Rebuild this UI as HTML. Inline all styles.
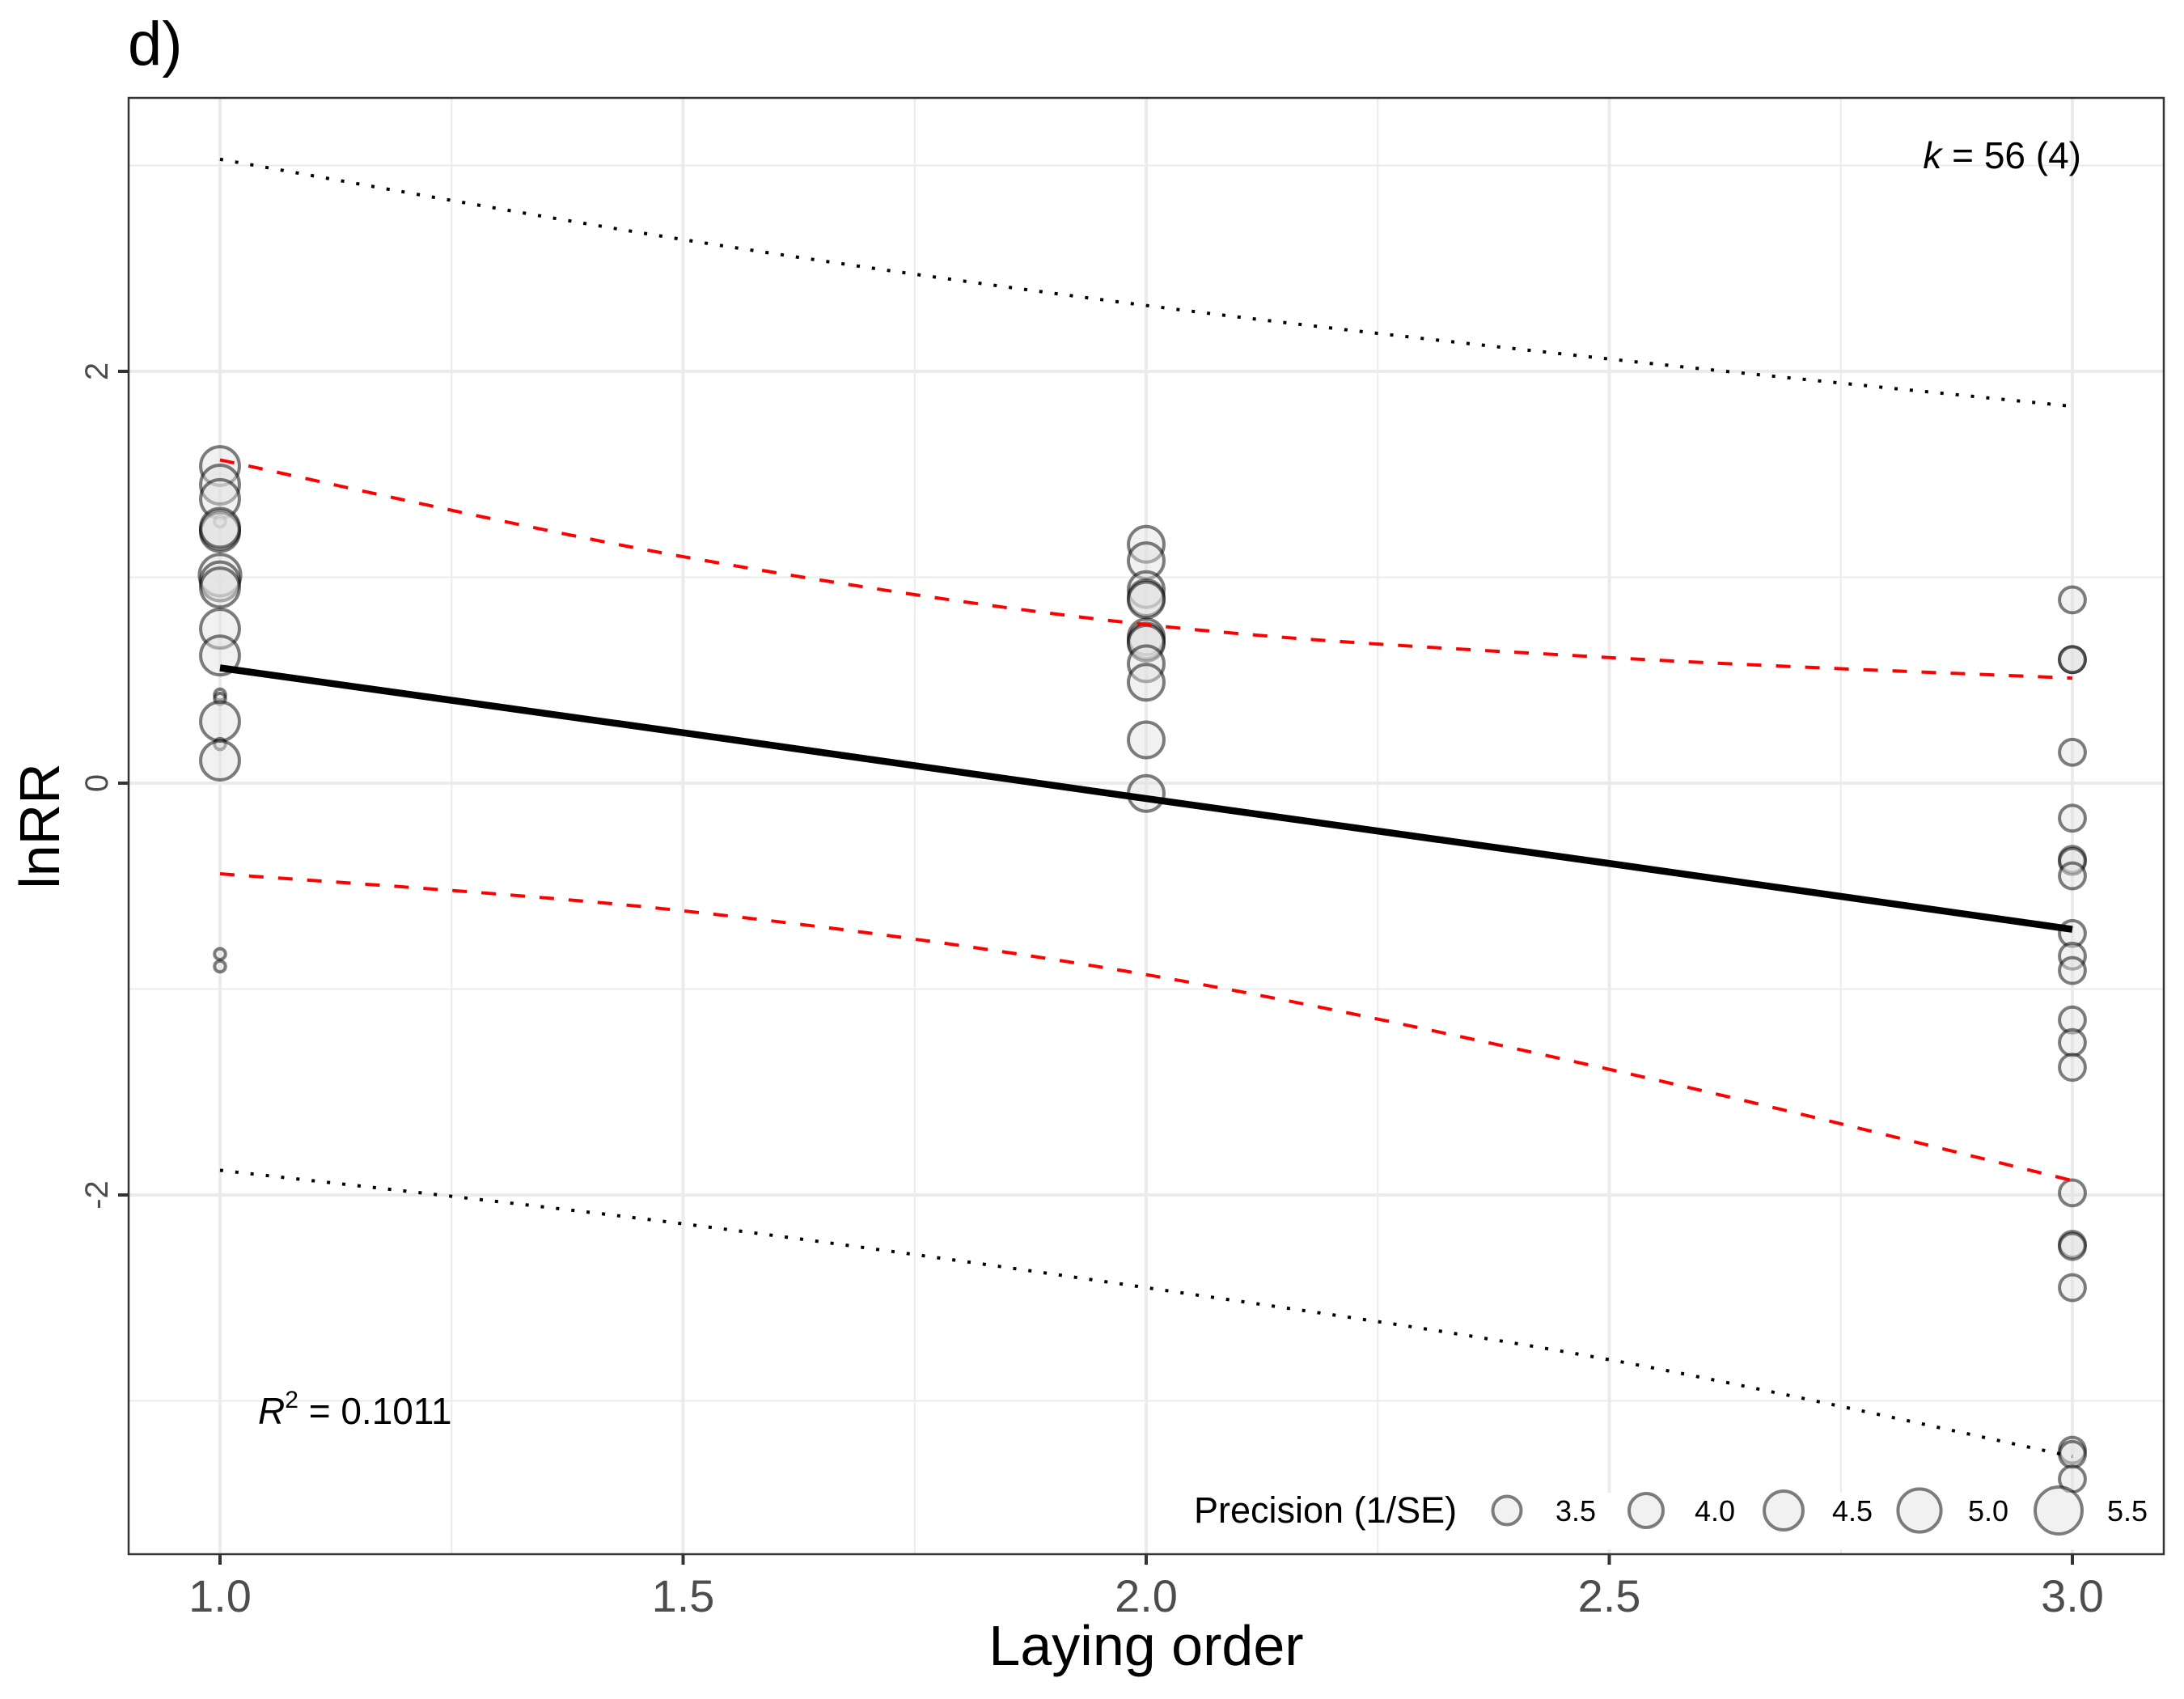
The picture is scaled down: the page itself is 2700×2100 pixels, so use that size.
<!DOCTYPE html>
<html><head><meta charset="utf-8"><style>
html,body{margin:0;padding:0;background:#fff;}
svg{display:block;font-family:"Liberation Sans",Arial,sans-serif;}
</style></head><body>
<svg id="chart" width="2700" height="2100" viewBox="0 0 2700 2100" xmlns="http://www.w3.org/2000/svg">
<rect x="0" y="0" width="2700" height="2100" fill="#fff"/>
<text x="158" y="80" font-size="76">d)</text>
<g id="grid"></g>
<g id="bands"></g>
<g id="points"></g>
<g id="legend"></g>
<rect x="159" y="121" width="2516" height="1800" fill="none" stroke="#333" stroke-width="2.5"/>
<g id="axes"></g>
<text x="1417" y="2058" font-size="70" text-anchor="middle">Laying order</text>
<text transform="translate(73,1021) rotate(-90)" font-size="70" text-anchor="middle">lnRR</text>
<text x="2573" y="208" font-size="46" text-anchor="end"><tspan font-style="italic">k</tspan> = 56 (4)</text>
<text x="319" y="1760" font-size="46"><tspan font-style="italic">R</tspan><tspan dy="-20" font-size="30">2</tspan><tspan dy="20"> = 0.1011</tspan></text>
</svg>
<script>
const NS="http://www.w3.org/2000/svg";
const xTicks=[1.0,1.5,2.0,2.5,3.0];
const xTickLabels=["1.0","1.5","2.0","2.5","3.0"];
const xMinor=[1.25,1.75,2.25,2.75];
const yTicks=[-2,0,2];
const yTickLabels=["-2","0","2"];
const yMinor=[-3,-1,1,3];
const lineX=[1,1.5,2,2.5,3];
const fitY=[0.56,0.245,-0.075,-0.39,-0.71];
const ciUpper=[1.57,1.10,0.77,0.61,0.51];
const ciLower=[-0.44,-0.62,-0.93,-1.39,-1.93];
const piUpper=[3.03,2.64,2.32,2.06,1.83];
const piLower=[-1.88,-2.14,-2.45,-2.80,-3.27];
const ptX1=[1,1,1,1,1,1,1,1,1,1,1,1,1,1,1,1,1,1,1];
const ptY1=[1.54,1.45,1.38,1.27,1.23,1.22,1.24,1.01,0.98,0.95,0.75,0.62,0.43,0.41,0.30,0.19,0.11,-0.83,-0.89];
const ptP1=[4.5,4.5,4.5,2.52,4.5,4.5,4.5,4.8,4.5,4.5,4.5,4.5,2.52,2.52,4.5,2.52,4.5,2.52,2.52];
const ptX2=[2,2,2,2,2,2,2,2,2,2,2,2];
const ptY2=[1.16,1.08,0.94,0.90,0.89,0.71,0.69,0.68,0.58,0.49,0.21,-0.05];
const ptP2=[4.16,4.16,4.16,4.16,4.16,4.16,4.16,4.16,4.16,4.16,4.16,4.16];
const ptY3=[0.89,0.60,0.60,0.15,-0.17,-0.37,-0.38,-0.45,-0.73,-0.84,-0.91,-1.15,-1.26,-1.38,-1.99,-2.24,-2.25,-2.45,-3.24,-3.26,-3.38];
const legendValues=[3.5,4.0,4.5,5.0,5.5];
const legendLabels=["3.5","4.0","4.5","5.0","5.5"];

const X=v=>272+(v-1)*1145;
const Y=v=>968-v*254.5;
const R=p=>Math.sqrt(Math.max(20,267*(p-4)+441));
function el(tag,attrs,parent){const e=document.createElementNS(NS,tag);for(const k in attrs)e.setAttribute(k,attrs[k]);parent.appendChild(e);return e;}

const grid=document.getElementById('grid');
xMinor.forEach(v=>{const l=el('line',{x1:X(v),x2:X(v),y1:121,y2:1921,stroke:'#ebebeb','stroke-width':2},grid);

});
yMinor.forEach(v=>{const l=el('line',{x1:159,x2:2675,y1:Y(v),y2:Y(v),stroke:'#ebebeb','stroke-width':2},grid);

});
xTicks.forEach(v=>{const l=el('line',{x1:X(v),x2:X(v),y1:121,y2:1921,stroke:'#ebebeb','stroke-width':4},grid);

});
yTicks.forEach(v=>{const l=el('line',{x1:159,x2:2675,y1:Y(v),y2:Y(v),stroke:'#ebebeb','stroke-width':4},grid);

});

function smooth(ys){let d='';lineX.forEach((x,i)=>{d+=(i?'L':'M')+X(x)+','+Y(ys[i]);});return d;}
function curve(ys){const pts=[];for(let i=0;i<lineX.length;i++)pts.push([X(lineX[i]),Y(ys[i])]);
let d='M'+pts[0][0]+','+pts[0][1];
for(let i=0;i<pts.length-1;i++){const p0=pts[Math.max(0,i-1)],p1=pts[i],p2=pts[i+1],p3=pts[Math.min(pts.length-1,i+2)];
d+='C'+(p1[0]+(p2[0]-p0[0])/6)+','+(p1[1]+(p2[1]-p0[1])/6)+' '+(p2[0]-(p3[0]-p1[0])/6)+','+(p2[1]-(p3[1]-p1[1])/6)+' '+p2[0]+','+p2[1];}
return d;}

const pts=document.getElementById('points');
function pt(x,y,p,name){const c=el('circle',{cx:X(x),cy:Y(y),r:R(p),fill:'rgba(225,225,225,0.45)',stroke:'rgba(0,0,0,0.5)','stroke-width':4},pts);

}
ptY1.forEach((y,i)=>pt(ptX1[i],y,ptP1[i],'point-order-1'));
ptY2.forEach((y,i)=>pt(ptX2[i],y,ptP2[i],'point-order-2'));
ptY3.forEach(y=>pt(3,y,3.3,'point-order-3'));

let p;
p=el('path',{d:curve(piUpper),fill:'none',stroke:'#000','stroke-width':4,'stroke-dasharray':'4,15'},pts);


p=el('path',{d:curve(piLower),fill:'none',stroke:'#000','stroke-width':4,'stroke-dasharray':'4,15'},pts);


p=el('path',{d:curve(ciUpper),fill:'none',stroke:'#ff0000','stroke-width':4,'stroke-dasharray':'18,18'},pts);


p=el('path',{d:curve(ciLower),fill:'none',stroke:'#ff0000','stroke-width':4,'stroke-dasharray':'18,18'},pts);


p=el('path',{d:smooth(fitY),fill:'none',stroke:'#000','stroke-width':8.5},pts);



const lg=document.getElementById('legend');
const bg=el('rect',{x:1855,y:1845,width:815,height:70,fill:'#fff'},lg);


const lt=el('text',{x:1476,y:1882,'font-size':45},lg);lt.textContent='Precision (1/SE)';


const keyX=[1863,2035,2205,2373,2545];
legendValues.forEach((v,i)=>{
const c=el('circle',{cx:keyX[i],cy:1867,r:R(v),fill:'rgba(225,225,225,0.45)',stroke:'rgba(0,0,0,0.5)','stroke-width':4},lg);


const t=el('text',{x:keyX[i]+60,y:1880,'font-size':36},lg);t.textContent=legendLabels[i];

});

const ax=document.getElementById('axes');
xTicks.forEach((v,i)=>{const l=el('line',{x1:X(v),x2:X(v),y1:1921,y2:1934,stroke:'#333','stroke-width':4},ax);


const t=el('text',{x:X(v),y:1992,'font-size':56,'text-anchor':'middle',fill:'#4d4d4d'},ax);t.textContent=xTickLabels[i];

});
yTicks.forEach((v,i)=>{const l=el('line',{x1:146,x2:159,y1:Y(v),y2:Y(v),stroke:'#333','stroke-width':4},ax);


const t=el('text',{transform:`translate(133,${Y(v)}) rotate(-90)`,'font-size':40,'text-anchor':'middle',fill:'#4d4d4d'},ax);t.textContent=yTickLabels[i];

});
</script>
</body></html>
